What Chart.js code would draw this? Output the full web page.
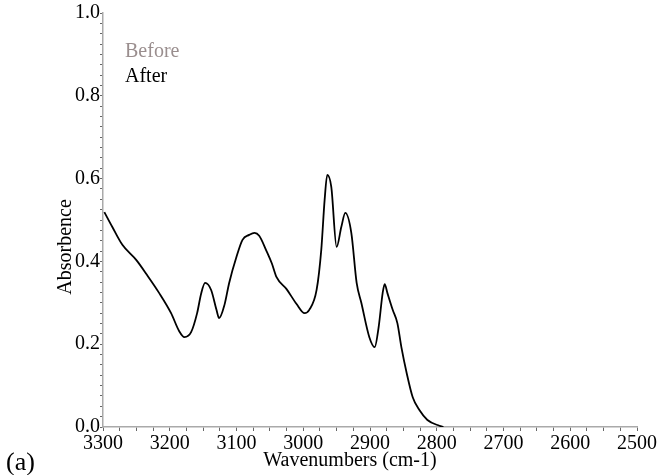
<!DOCTYPE html>
<html>
<head>
<meta charset="utf-8">
<script src="https://cdn.jsdelivr.net/npm/chart.js@4/dist/chart.umd.min.js"></script>
<style>
html,body{margin:0;padding:0;background:#fff;}
#wrap{width:660px;height:475px;position:relative;}
</style>
</head>
<body>
<div id="wrap"><canvas id="c" width="660" height="475"></canvas></div>
<script>
// ---- data ----
const wavenumbers = [3298,3286,3271,3250,3234,3216,3198,3186,3178,3168,3159,3153,3147,3138,3130,3126,3118,3111,3100,3091,3081,3073,3066,3055,3047,3040,3025,3010,2998,2991,2980,2973,2968,2964,2958,2950,2943,2937,2928,2920,2913,2901,2893,2887,2881,2878,2874,2866,2859,2853,2845,2836,2826,2814,2796,2790];
const absorbanceAfter = [0.519,0.483,0.440,0.403,0.367,0.324,0.275,0.232,0.217,0.229,0.275,0.322,0.348,0.331,0.283,0.263,0.295,0.348,0.411,0.452,0.464,0.469,0.462,0.425,0.395,0.362,0.333,0.297,0.275,0.283,0.331,0.428,0.548,0.609,0.580,0.435,0.483,0.517,0.469,0.348,0.300,0.217,0.193,0.242,0.324,0.345,0.324,0.283,0.251,0.193,0.130,0.072,0.041,0.017,0.003,0.0];
const seriesNames = ["Before","After"];
const seriesColors = ["#9a8e8e","#000000"];
const xTickLabels = [3300,3200,3100,3000,2900,2800,2700,2600,2500];
const yTickLabels = [0.0,0.2,0.4,0.6,0.8,1.0];
const xTitle = "Wavenumbers (cm-1)";
const yTitle = "Absorbence";
const panelLabel = "(a)";

const FONT = "'Liberation Serif', 'Times New Roman', serif";

const points = wavenumbers.map((w,i)=>({x:w,y:absorbanceAfter[i]}));

const isLabelX = v => xTickLabels.some(t=>Math.abs(t-v)<1e-6);
const isLabelY = v => yTickLabels.some(t=>Math.abs(t-v)<1e-6);

const textPlugin = {
  id:'texts',
  afterDraw(chart){
    const ctx = chart.ctx;
    ctx.save();
    ctx.fillStyle = '#000';
    ctx.font = "20px " + FONT;
    ctx.textAlign = 'center';
    ctx.textBaseline = 'alphabetic';
    ctx.fillText(xTitle, 350, 466);
    ctx.save();
    ctx.translate(66, 247);
    ctx.rotate(-Math.PI/2);
    ctx.textBaseline = 'middle';
    ctx.fillText(yTitle, 0, 0);
    ctx.restore();
    ctx.font = "26px " + FONT;
    ctx.textAlign = 'left';
    ctx.fillText(panelLabel, 6, 470);
    // legend
    ctx.font = "20px " + FONT;
    seriesNames.forEach((n,i)=>{
      ctx.fillStyle = seriesColors[i];
      ctx.fillText(n, 125, 57 + i*25);
    });
    ctx.restore();
  }
};

new Chart(document.getElementById('c'), {
  type:'line',
  data:{
    datasets:[{
      label: seriesNames[1],
      data: points,
      borderColor: seriesColors[1],
      borderWidth: 1.8,
      pointRadius: 0,
      fill:false,
      cubicInterpolationMode:'monotone'
    }]
  },
  options:{
    responsive:false,
    animation:false,
    layout:{padding:{left:0,right:23,top:13,bottom:0}},
    plugins:{legend:{display:false},tooltip:{enabled:false}},
    scales:{
      x:{
        type:'linear',
        reverse:true,
        min:2500,max:3300,
        border:{color:'#aaaaaa',width:1.5},
        grid:{drawOnChartArea:false,drawTicks:true,tickLength:4,color:'#666'},
        ticks:{
          stepSize:25,autoSkip:false,maxRotation:0,padding:1,
          color:'#000',font:{family:FONT,size:20},
          callback:(v)=> isLabelX(v) ? String(Math.round(v)) : ''
        },
        afterFit(s){ s.height = 48; }
      },
      y:{
        min:0,max:1.0,
        border:{color:'#aaaaaa',width:1.5},
        grid:{drawOnChartArea:false,drawTicks:true,tickLength:3,color:'#666'},
        ticks:{
          stepSize:0.025,autoSkip:false,padding:0,
          color:'#000',font:{family:FONT,size:20},
          callback:(v)=> isLabelY(v) ? v.toFixed(1) : ''
        },
        afterFit(s){ s.width = 103; }
      }
    }
  },
  plugins:[textPlugin]
});
</script>
</body>
</html>
